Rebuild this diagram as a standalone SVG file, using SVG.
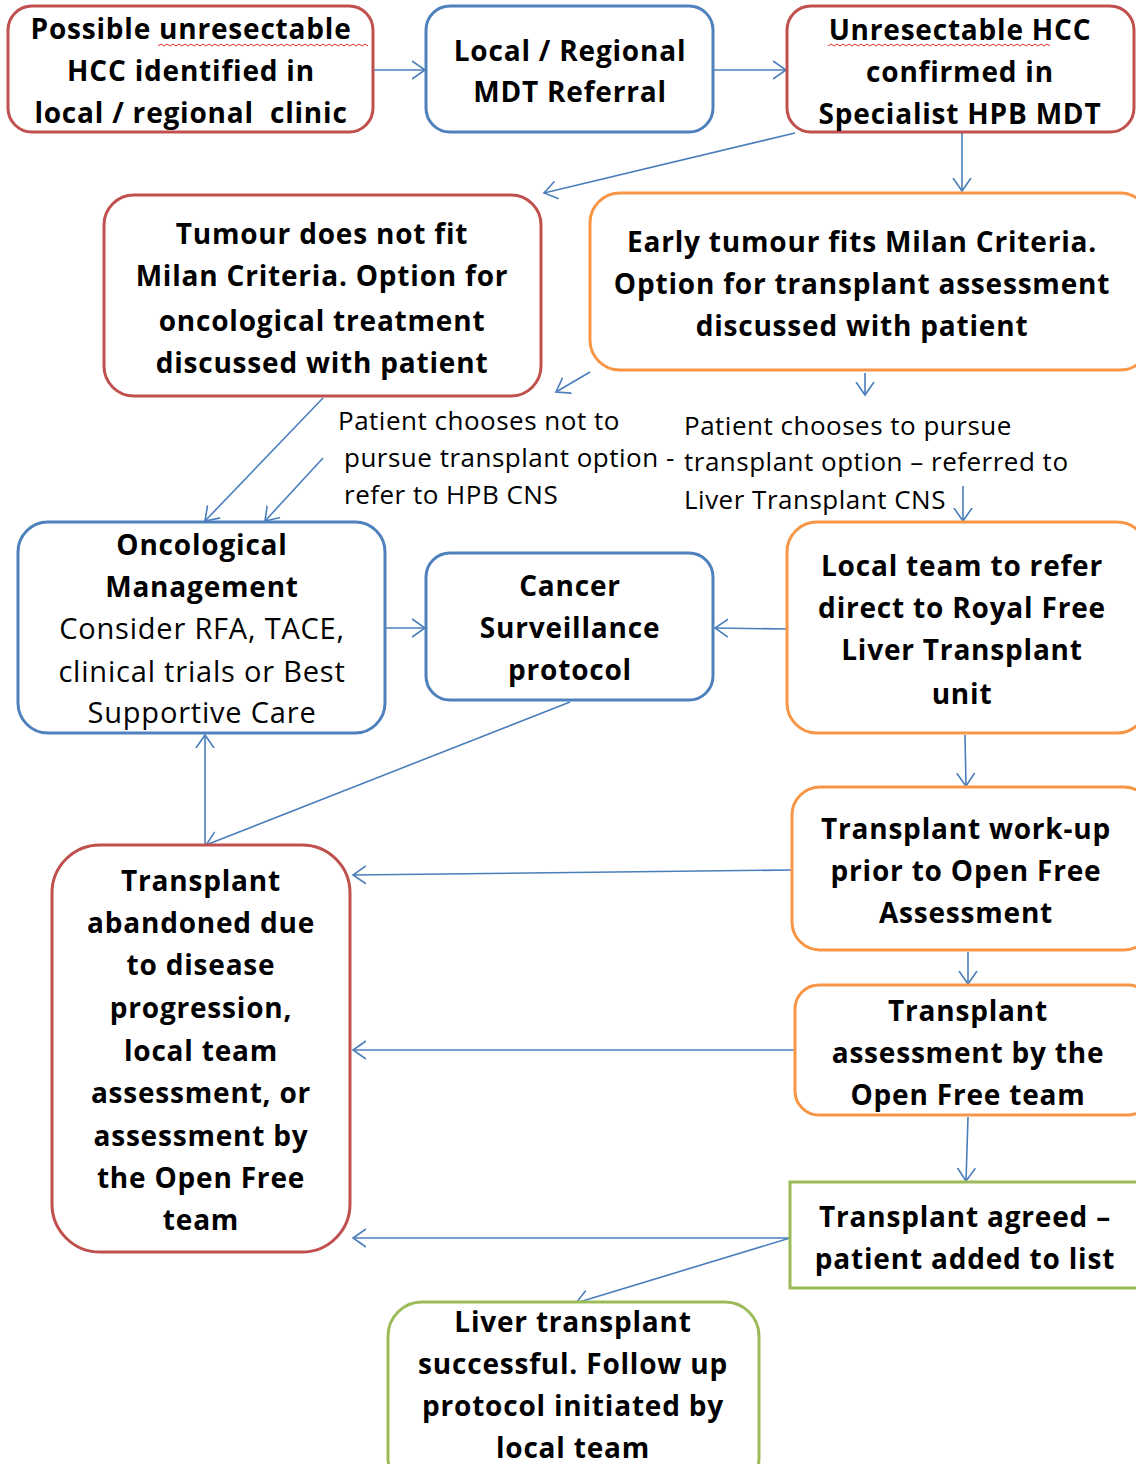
<svg xmlns="http://www.w3.org/2000/svg" width="1136" height="1464" viewBox="0 0 1136 1464">
  <style>
    .box { fill: #ffffff; stroke-width: 3; }
    .red { stroke: #c0504d; }
    .blue { stroke: #4f81bd; }
    .orange { stroke: #f79646; }
    .green { stroke: #9bbb59; }
    .t { font-family: "Open Sans", "Liberation Sans", sans-serif; font-weight: bold; font-size: 28px; fill: #000; text-anchor: middle; letter-spacing: 0.8px; }
    .n { font-family: "Open Sans", "Liberation Sans", sans-serif; font-size: 26px; fill: #000; letter-spacing: 0.5px; }
    .nb { font-size: 29px; letter-spacing: 0.8px; text-anchor: middle; }
    .pre { white-space: pre; }
    .link { fill: none; stroke: #4a7ebb; stroke-width: 1.6; marker-end: url(#arrow); }
    .squiggle { fill: none; stroke: #e03030; stroke-width: 1; }
  </style>
  <defs>
    <marker id="arrow" markerUnits="userSpaceOnUse" markerWidth="16" markerHeight="20" refX="13" refY="9" orient="auto" viewBox="0 0 16 18">
      <path d="M0,0 L13,9 L0,18" fill="none" stroke="#4a7ebb" stroke-width="1.6"/>
    </marker>
  </defs>

  <rect width="1136" height="1464" fill="#ffffff"/>

  <!-- connectors -->
  <g id="connectors">
    <line class="link" x1="373" y1="70" x2="425" y2="70"/>
    <line class="link" x1="713" y1="70" x2="786" y2="70"/>
    <line class="link" x1="795" y1="133" x2="544" y2="193"/>
    <line class="link" x1="962" y1="133" x2="962" y2="191"/>
    <line class="link" x1="590" y1="372" x2="556" y2="392"/>
    <line class="link" x1="865" y1="373" x2="865" y2="395"/>
    <line class="link" x1="323" y1="398" x2="205" y2="521"/>
    <line class="link" x1="323" y1="458" x2="265" y2="521"/>
    <line class="link" x1="963" y1="486" x2="963" y2="521"/>
    <line class="link" x1="385" y1="628" x2="425" y2="628"/>
    <line class="link" x1="787" y1="629" x2="715" y2="628"/>
    <line class="link" x1="570" y1="702" x2="206" y2="845"/>
    <line class="link" x1="205" y1="845" x2="205" y2="735"/>
    <line class="link" x1="965" y1="735" x2="966" y2="786"/>
    <line class="link" x1="792" y1="870" x2="353" y2="875"/>
    <line class="link" x1="968" y1="952" x2="968" y2="984"/>
    <line class="link" x1="795" y1="1050" x2="353" y2="1050"/>
    <line class="link" x1="968" y1="1117" x2="966" y2="1181"/>
    <line class="link" x1="790" y1="1238" x2="353" y2="1238"/>
    <line class="link" x1="790" y1="1238" x2="576" y2="1303"/>
  </g>

  <!-- edge labels -->
  <g id="label-decline">
    <text class="n" x="338" y="430">Patient chooses not to</text>
    <text class="n" x="344" y="467">pursue transplant option -</text>
    <text class="n" x="344" y="504">refer to HPB CNS</text>
  </g>
  <g id="label-pursue">
    <text class="n" x="684" y="435">Patient chooses to pursue</text>
    <text class="n" x="684" y="471">transplant option – referred to</text>
    <text class="n" x="684" y="509">Liver Transplant CNS</text>
  </g>

  <g id="n-possible">
    <rect class="box red" x="8" y="6" width="365" height="126" rx="24"/>
    <text class="t" x="191" y="39">Possible unresectable</text>
    <text class="t" x="191" y="81">HCC identified in</text>
    <text class="t pre" x="191" y="123">local / regional  clinic</text>
    <path class="squiggle" d="M158,46 l3,-2 l3,2 l3,-2 l3,2 l3,-2 l3,2 l3,-2 l3,2 l3,-2 l3,2 l3,-2 l3,2 l3,-2 l3,2 l3,-2 l3,2 l3,-2 l3,2 l3,-2 l3,2 l3,-2 l3,2 l3,-2 l3,2 l3,-2 l3,2 l3,-2 l3,2 l3,-2 l3,2 l3,-2 l3,2 l3,-2 l3,2 l3,-2 l3,2 l3,-2 l3,2 l3,-2 l3,2 l3,-2 l3,2 l3,-2 l3,2 l3,-2 l3,2 l3,-2 l3,2 l3,-2 l3,2 l3,-2 l3,2 l3,-2 l3,2 l3,-2 l3,2 l3,-2 l3,2 l3,-2 l3,2 l3,-2 l3,2 l3,-2 l3,2 l3,-2 l3,2 l3,-2 l3,2 l3,-2 l3,2"/>
  </g>

  <g id="n-mdt-referral">
    <rect class="box blue" x="426" y="6" width="287" height="126" rx="24"/>
    <text class="t" x="570" y="61">Local / Regional</text>
    <text class="t" x="570" y="102">MDT Referral</text>
  </g>

  <g id="n-confirmed">
    <rect class="box red" x="787" y="6" width="347" height="126" rx="24"/>
    <text class="t" x="960" y="40">Unresectable HCC</text>
    <text class="t" x="960" y="82">confirmed in</text>
    <text class="t" x="960" y="124">Specialist HPB MDT</text>
    <path class="squiggle" d="M828,46 l3,-2 l3,2 l3,-2 l3,2 l3,-2 l3,2 l3,-2 l3,2 l3,-2 l3,2 l3,-2 l3,2 l3,-2 l3,2 l3,-2 l3,2 l3,-2 l3,2 l3,-2 l3,2 l3,-2 l3,2 l3,-2 l3,2 l3,-2 l3,2 l3,-2 l3,2 l3,-2 l3,2 l3,-2 l3,2 l3,-2 l3,2 l3,-2 l3,2 l3,-2 l3,2 l3,-2 l3,2 l3,-2 l3,2 l3,-2 l3,2 l3,-2 l3,2 l3,-2 l3,2 l3,-2 l3,2 l3,-2 l3,2 l3,-2 l3,2 l3,-2 l3,2 l3,-2 l3,2 l3,-2 l3,2 l3,-2 l3,2 l3,-2 l3,2 l3,-2 l3,2 l3,-2 l3,2 l3,-2 l3,2 l3,-2 l3,2 l3,-2 l3,2"/>
  </g>

  <g id="n-not-milan">
    <rect class="box red" x="104" y="195" width="437" height="201" rx="30"/>
    <text class="t" x="322" y="244">Tumour does not fit</text>
    <text class="t" x="322" y="286">Milan Criteria. Option for</text>
    <text class="t" x="322" y="331">oncological treatment</text>
    <text class="t" x="322" y="373">discussed with patient</text>
  </g>

  <g id="n-milan">
    <rect class="box orange" x="590" y="193" width="560" height="177" rx="30"/>
    <text class="t" x="862" y="252">Early tumour fits Milan Criteria.</text>
    <text class="t" x="862" y="294">Option for transplant assessment</text>
    <text class="t" x="862" y="336">discussed with patient</text>
  </g>

  <g id="n-oncological">
    <rect class="box blue" x="18" y="522" width="367" height="211" rx="30"/>
    <text class="t" x="202" y="555">Oncological</text>
    <text class="t" x="202" y="597">Management</text>
    <text class="n nb" x="202" y="639">Consider RFA, TACE,</text>
    <text class="n nb" x="202" y="682">clinical trials or Best</text>
    <text class="n nb" x="202" y="723">Supportive Care</text>
  </g>

  <g id="n-surveillance">
    <rect class="box blue" x="426" y="553" width="287" height="147" rx="24"/>
    <text class="t" x="570" y="596">Cancer</text>
    <text class="t" x="570" y="638">Surveillance</text>
    <text class="t" x="570" y="680">protocol</text>
  </g>

  <g id="n-local-refer">
    <rect class="box orange" x="787" y="522" width="360" height="211" rx="30"/>
    <text class="t" x="962" y="576">Local team to refer</text>
    <text class="t" x="962" y="618">direct to Royal Free</text>
    <text class="t" x="962" y="660">Liver Transplant</text>
    <text class="t" x="962" y="704">unit</text>
  </g>

  <g id="n-workup">
    <rect class="box orange" x="792" y="787" width="360" height="163" rx="28"/>
    <text class="t" x="966" y="839">Transplant work-up</text>
    <text class="t" x="966" y="881">prior to Open Free</text>
    <text class="t" x="966" y="923">Assessment</text>
  </g>

  <g id="n-assessment">
    <rect class="box orange" x="795" y="985" width="357" height="130" rx="24"/>
    <text class="t" x="968" y="1021">Transplant</text>
    <text class="t" x="968" y="1063">assessment by the</text>
    <text class="t" x="968" y="1105">Open Free team</text>
  </g>

  <g id="n-agreed">
    <rect class="box green" x="790" y="1182" width="360" height="106"/>
    <text class="t" x="965" y="1227">Transplant agreed –</text>
    <text class="t" x="965" y="1269">patient added to list</text>
  </g>

  <g id="n-abandoned">
    <rect class="box red" x="52" y="845" width="298" height="407" rx="48"/>
    <text class="t" x="201" y="891">Transplant</text>
    <text class="t" x="201" y="933">abandoned due</text>
    <text class="t" x="201" y="975">to disease</text>
    <text class="t" x="201" y="1018">progression,</text>
    <text class="t" x="201" y="1061">local team</text>
    <text class="t" x="201" y="1103">assessment, or</text>
    <text class="t" x="201" y="1146">assessment by</text>
    <text class="t" x="201" y="1188">the Open Free</text>
    <text class="t" x="201" y="1230">team</text>
  </g>

  <g id="n-successful">
    <rect class="box green" x="388" y="1302" width="371" height="190" rx="34"/>
    <text class="t" x="573" y="1332">Liver transplant</text>
    <text class="t" x="573" y="1374">successful. Follow up</text>
    <text class="t" x="573" y="1416">protocol initiated by</text>
    <text class="t" x="573" y="1458">local team</text>
  </g>
</svg>
